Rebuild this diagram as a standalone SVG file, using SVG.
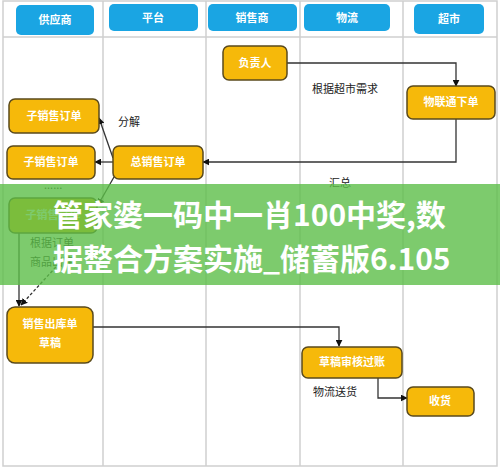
<svg xmlns="http://www.w3.org/2000/svg" width="500" height="469" viewBox="0 0 500 469">
<style>
.grid{stroke:#cfcfcf;stroke-width:1.5;fill:none}
.hdr rect{fill:#1aa5e3}
.hdr text{fill:#fff;font-family:"Noto Sans CJK SC",sans-serif;font-size:11px;font-weight:bold;text-anchor:middle}
.node rect{fill:#f6b90a;stroke:#5a4a1c;stroke-width:1.5}
.node text{fill:#fff;font-family:"Noto Sans CJK SC",sans-serif;font-size:11px;font-weight:bold;text-anchor:middle}
.lbl{fill:#222;font-family:"Noto Sans CJK SC",sans-serif;font-size:11px}
.conn path{fill:none;stroke:#333;stroke-width:1.3}
.banner text{fill:#fff;font-family:"Noto Sans CJK SC",sans-serif;font-size:30px;font-weight:bold}
</style>
<defs>
<marker id="arr" viewBox="0 0 10 10" refX="9" refY="5" markerWidth="7" markerHeight="7" orient="auto-start-reverse" markerUnits="userSpaceOnUse">
<path d="M0,0 L10,5 L0,10 z" fill="#111"/>
</marker>
</defs>
<rect x="0" y="0" width="500" height="469" fill="#fff"/>
<g id="grid">
<rect class="grid" x="3" y="1" width="494" height="465"/>
<line class="grid" x1="3" y1="37" x2="497" y2="37"/>
<line class="grid" x1="103" y1="1" x2="103" y2="466"/>
<line class="grid" x1="206" y1="1" x2="206" y2="466"/>
<line class="grid" x1="300" y1="1" x2="300" y2="466"/>
<line class="grid" x1="403" y1="1" x2="403" y2="466"/>
</g>
<g id="headers" class="hdr">
<g id="h-supplier"><rect x="16" y="5" width="78" height="30" rx="5"/><text x="55" y="24">供应商</text></g>
<g id="h-platform"><rect x="109" y="4" width="89" height="27" rx="5"/><text x="153" y="22">平台</text></g>
<g id="h-dealer"><rect x="208" y="4" width="89" height="27" rx="5"/><text x="252" y="22">销售商</text></g>
<g id="h-logistics"><rect x="304" y="4" width="86" height="27" rx="5"/><text x="347" y="22">物流</text></g>
<g id="h-market"><rect x="414" y="4" width="70" height="30" rx="5"/><text x="449" y="23">超市</text></g>
</g>
<g id="connectors" class="conn">
<path d="M287,63 H456 V86" marker-end="url(#arr)"/>
<path d="M456,119 V162 H203" marker-end="url(#arr)"/>
<path d="M113,162 H95" marker-end="url(#arr)"/>
<path d="M113,158 L99,118" marker-end="url(#arr)"/>
<path d="M114,177 L98,205" marker-end="url(#arr)"/>
<path d="M19,233 V306" marker-end="url(#arr)"/>
<path d="M66,256 L21,305" stroke-dasharray="3,2" marker-end="url(#arr)"/>
<path d="M93,327 H339 V346" marker-end="url(#arr)"/>
<path d="M378,378 V398 H407" marker-end="url(#arr)"/>
</g>
<g id="n-fuzeren" class="node"><rect x="223" y="46" width="64" height="34" rx="6"/><text x="255" y="67">负责人</text></g>
<g id="n-wulian" class="node"><rect x="407" y="86" width="88" height="33" rx="6"/><text x="451" y="106">物联通下单</text></g>
<g id="n-total" class="node"><rect x="113" y="146" width="90" height="33" rx="6"/><text x="158" y="166">总销售订单</text></g>
<g id="n-sub1" class="node"><rect x="9" y="99" width="90" height="34" rx="6"/><text x="54" y="120">子销售订单</text></g>
<g id="n-sub2" class="node"><rect x="7" y="146" width="88" height="33" rx="6"/><text x="51" y="166">子销售订单</text></g>
<g id="n-sub3" class="node"><rect x="9" y="198" width="88" height="35" rx="6"/><text x="53" y="219">子销售订单</text></g>
<g id="n-out" class="node"><rect x="7" y="307" width="86" height="56" rx="8"/><text x="50" y="328">销售出库单</text><text x="50" y="347">草稿</text></g>
<g id="n-audit" class="node"><rect x="302" y="347" width="100" height="31" rx="6"/><text x="352" y="366">草稿审核过账</text></g>
<g id="n-receive" class="node"><rect x="407" y="387" width="67" height="29" rx="6"/><text x="440" y="405">收货</text></g>
<g id="labels">
<text class="lbl" x="118" y="126">分解</text>
<text class="lbl" x="312" y="93">根据超市需求</text>
<text class="lbl" x="329" y="187">汇总</text>
<text class="lbl" x="44" y="189" style="letter-spacing:0">......</text>
<text class="lbl" x="30" y="247">根据订单</text>
<text class="lbl" x="30" y="266">商品出库</text>
<text class="lbl" x="313" y="396">物流送货</text>
</g>
<g id="banner" class="banner">
<rect x="0" y="184" width="500" height="101" fill="rgb(93,190,73)" fill-opacity="0.8"/>
<text x="53" y="226">管家婆一码中一肖100中奖,数</text>
<text x="53" y="270">据整合方案实施_储蓄版6.105</text>
</g>
</svg>
